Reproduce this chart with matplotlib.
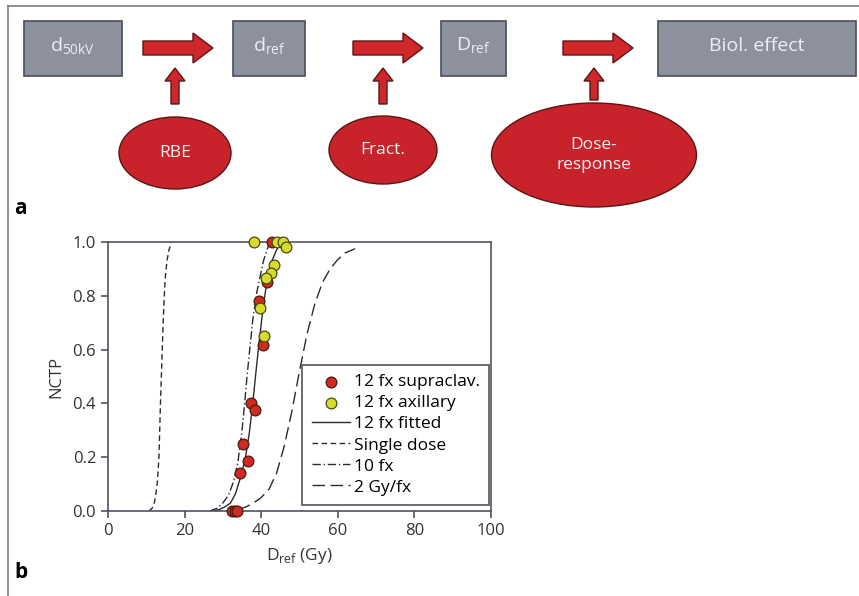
import matplotlib
matplotlib.use("Agg")
import matplotlib.pyplot as plt
from matplotlib.patches import Rectangle, Ellipse, FancyArrow

plt.rcParams.update({
    "font.family": ["Open Sans", "DejaVu Sans"],
    "font.size": 11,
    "mathtext.fontset": "custom",
    "mathtext.rm": "Open Sans",
    "axes.linewidth": 1.2,
    "axes.edgecolor": "#50545e",
    "xtick.color": "#50545e",
    "ytick.color": "#50545e",
    "xtick.labelcolor": "#333333",
    "ytick.labelcolor": "#333333",
})

# --- panel b data ---
supra_x = [42.7, 41.4, 39.4, 40.5, 37.4, 38.4, 35.3, 36.6, 34.5, 32.4, 33.1, 33.8]
supra_y = [1.0, 0.853, 0.78, 0.618, 0.40, 0.376, 0.248, 0.187, 0.142, 0.0, 0.0, 0.0]
axil_x = [38.1, 44.2, 45.8, 46.4, 43.3, 42.6, 41.2, 39.6, 40.7]
axil_y = [1.0, 1.0, 1.0, 0.98, 0.916, 0.884, 0.866, 0.753, 0.649]

fit_x = [27, 29, 30.5, 32.0, 33.3, 34.5, 35.8, 36.9, 37.8, 38.5, 39.4, 40.6, 41.6, 42.8, 44.0, 45.2]
fit_y = [0.0, 0.005, 0.015, 0.03, 0.065, 0.12, 0.19, 0.29, 0.40, 0.50, 0.62, 0.77, 0.86, 0.93, 0.97, 1.0]

single_x = [10.7, 11.5, 12.0, 12.4, 12.9, 13.3, 13.7, 14.0, 14.3, 14.6, 14.9, 15.4, 15.9, 16.6]
single_y = [0.0, 0.01, 0.025, 0.052, 0.11, 0.20, 0.40, 0.53, 0.66, 0.77, 0.86, 0.93, 0.97, 1.0]

fx10_x = [26.5, 28.5, 30.0, 31.5, 32.8, 33.9, 35.0, 35.8, 36.3, 37.0, 37.8, 38.8, 39.7, 40.6, 41.5, 42.3]
fx10_y = [0.0, 0.01, 0.03, 0.06, 0.11, 0.18, 0.30, 0.42, 0.50, 0.60, 0.71, 0.81, 0.87, 0.93, 0.97, 1.0]

gy2_x = [34, 36, 38, 40, 42, 44, 46, 48, 50, 52, 54, 56, 58, 60, 62, 64.5]
gy2_y = [0.005, 0.015, 0.03, 0.05, 0.08, 0.14, 0.24, 0.37, 0.52, 0.66, 0.77, 0.85, 0.9, 0.935, 0.96, 0.975]

x_ticks = [0, 20, 40, 60, 80, 100]
y_ticks = [0.0, 0.2, 0.4, 0.6, 0.8, 1.0]

# --- panel a labels ---
box_labels = [r"d$_\mathregular{50kV}$", r"d$_\mathregular{ref}$", r"D$_\mathregular{ref}$", "Biol. effect"]
oval_labels = ["RBE", "Fract.", "Dose-\nresponse"]

fig = plt.figure(figsize=(8.59, 5.96), dpi=100)

# overlay in pixel coordinates for the flow diagram and frame
ov = fig.add_axes([0, 0, 1, 1])
ov.set_xlim(0, 859)
ov.set_ylim(596, 0)
ov.axis("off")

# frame lines (top and left)
ov.plot([8, 859], [6, 6], color="#7a7d85", lw=1.2)
ov.plot([8, 8], [6, 596], color="#7a7d85", lw=1.2)

box_gray = "#8d919e"
box_edge = "#4a4e5a"
red = "#d0282a"
red_edge = "#5a1515"

boxes = [(24, 122), (233, 305), (441, 506), (658, 856)]
for (x0, x1), lab in zip(boxes, box_labels):
    ov.add_patch(Rectangle((x0, 21), x1 - x0, 55, facecolor=box_gray,
                           edgecolor=box_edge, lw=1.2))
    ov.text((x0 + x1) / 2, 46, lab, color="#eceef2", fontsize=14,
            ha="center", va="center")

for xs in [143, 353, 563]:
    ov.add_patch(FancyArrow(xs, 48, 70, 0, width=14, head_width=30,
                            head_length=20, length_includes_head=True,
                            facecolor=red, edgecolor=red_edge, lw=1))

ovals = [(175, 153, 112, 72), (383, 150, 108, 68), (594, 155, 205, 104)]
arrow_bottoms = [104, 104, 100]
for (cx, cy, w, h), yb, lab in zip(ovals, arrow_bottoms, oval_labels):
    ov.add_patch(FancyArrow(cx, yb, 0, 68 - yb,
                            width=8, head_width=20, head_length=13,
                            length_includes_head=True,
                            facecolor=red, edgecolor=red_edge, lw=1))
    ov.add_patch(Ellipse((cx, cy), w, h, facecolor="#c8232a",
                         edgecolor=red_edge, lw=1))
    ov.text(cx, cy, lab, color="#f2f2f2", fontsize=12.5, ha="center",
            va="center", linespacing=1.4)

ov.text(14, 208, "a", fontsize=15, fontweight="bold", ha="left", va="center")
ov.text(14, 572, "b", fontsize=15, fontweight="bold", ha="left", va="center")

# --- panel b ---
ax = fig.add_axes([108 / 859, 1 - 511 / 596, 383 / 859, 269 / 596])
line_col = "#2b2b2b"
ax.plot(fit_x, fit_y, color=line_col, lw=1.0, ls="-", label="12 fx fitted")
ax.plot(single_x, single_y, color=line_col, lw=1.0, ls=(0, (4, 2.5)), label="Single dose")
ax.plot(fx10_x, fx10_y, color=line_col, lw=1.0, ls=(0, (6, 2, 1, 2)), label="10 fx")
ax.plot(gy2_x, gy2_y, color=line_col, lw=1.0, ls=(0, (9, 4)), label="2 Gy/fx")

ax.scatter(supra_x, supra_y, s=60, facecolor="#d02a22", edgecolor="#4a1a10",
           lw=0.9, zorder=3, clip_on=False, label="12 fx supraclav.")
ax.scatter(axil_x, axil_y, s=60, facecolor="#d6dc2c", edgecolor="#4a4a10",
           lw=0.9, zorder=3, clip_on=False, label="12 fx axillary")

ax.set_xlim(0, 100)
ax.set_ylim(0, 1.0)
ax.set_xticks(x_ticks)
ax.set_yticks(y_ticks)
ax.set_yticklabels([f"{v:.1f}" for v in y_ticks])
ax.tick_params(direction="out", length=5, width=1.2, labelsize=12)
ax.set_xlabel(r"D$_\mathregular{ref}$ (Gy)", fontsize=12.5, color="#333333", labelpad=5)
ax.set_ylabel("NCTP", fontsize=12, color="#333333", labelpad=6)

h, l = ax.get_legend_handles_labels()
order = [4, 5, 0, 1, 2, 3]
leg = ax.legend([h[i] for i in order], [l[i] for i in order],
                loc="lower right", bbox_to_anchor=(0.995, 0.022),
                borderaxespad=0, fancybox=False, framealpha=1,
                edgecolor="#50545e", fontsize=12.5, handlelength=2.2,
                handletextpad=0.2, labelspacing=0.28, borderpad=0.55)
leg.get_frame().set_linewidth(1.2)

fig.savefig("out.png", dpi=100)
